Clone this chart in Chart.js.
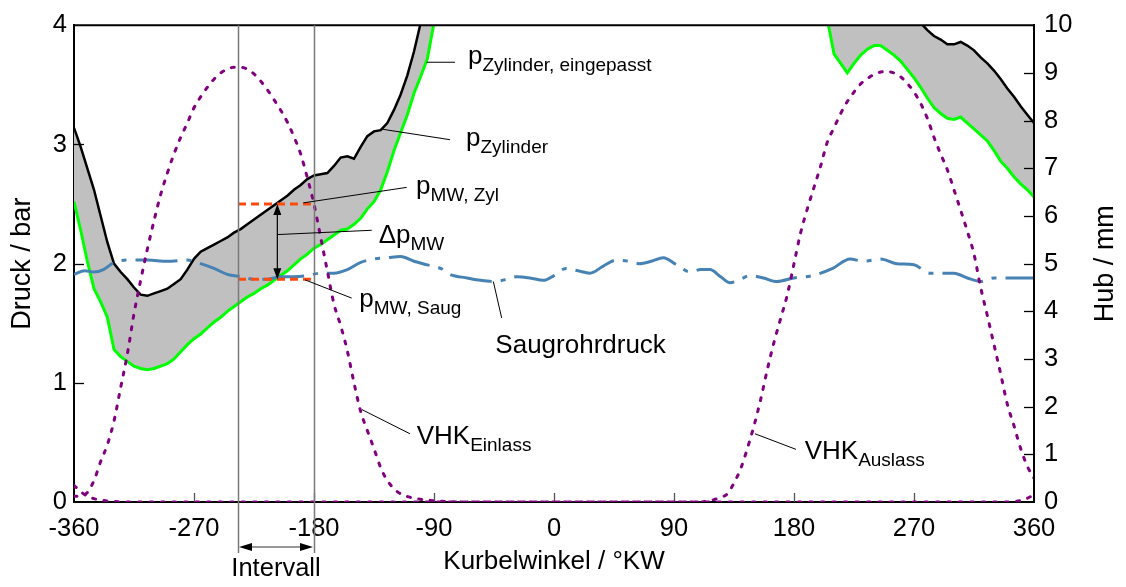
<!DOCTYPE html>
<html><head><meta charset="utf-8">
<script src="https://cdn.jsdelivr.net/npm/chart.js@4.4.1/dist/chart.umd.min.js"></script>
<style>html,body{margin:0;padding:0;background:#fff;} canvas{display:block;}</style>
</head><body>
<canvas id="c" width="1126" height="587"></canvas>
<script>
// ---------- data ----------
const KW_P = [-360,-355,-350,-345,-340,-335,-330,-325,-320,-315,-310,-305,-300,-295,-290,-285,-280,-275,-270,-265,-260,-255,-250,-245,-240,-235,-230,-225,-220,-215,-210,-205,-200,-195,-190,-185,-180,-175,-170,-165,-160,-155,-150,-145,-140,-135,-130,-125,-120,-115,-110,-105,-100,-95,-90,-85,
  -60,0,60,120,180,200,
  205,210,215,220,225,230,235,240,245,250,255,260,265,270,275,280,285,290,295,300,305,310,315,320,325,330,335,340,345,350,355,360];
const P_ZYL = [3.14,2.98,2.80,2.62,2.40,2.18,2.00,1.93,1.87,1.80,1.74,1.73,1.75,1.77,1.79,1.83,1.87,1.95,2.04,2.10,2.13,2.16,2.19,2.22,2.26,2.29,2.33,2.37,2.41,2.45,2.49,2.53,2.57,2.62,2.66,2.71,2.74,2.75,2.76,2.82,2.89,2.90,2.88,2.98,3.07,3.11,3.12,3.18,3.29,3.42,3.58,3.78,4.02,4.30,4.60,4.90,
  6.5,9.5,9.5,8.0,6.0,5.2,
  5.0,4.95,4.9,4.85,4.8,4.7,4.6,4.5,4.4,4.32,4.26,4.2,4.14,4.08,4.02,3.96,3.91,3.88,3.84,3.84,3.86,3.83,3.79,3.73,3.68,3.62,3.55,3.47,3.40,3.32,3.25,3.18];
const P_FIT = [2.52,2.28,2.02,1.79,1.68,1.55,1.28,1.22,1.18,1.14,1.12,1.11,1.12,1.14,1.16,1.20,1.26,1.32,1.37,1.41,1.46,1.51,1.55,1.60,1.64,1.68,1.72,1.75,1.79,1.82,1.86,1.90,1.94,1.99,2.04,2.08,2.13,2.16,2.20,2.24,2.28,2.29,2.33,2.38,2.46,2.52,2.62,2.77,2.95,3.10,3.25,3.43,3.57,3.72,4.02,4.30,
  5.5,8.0,8.0,7.0,5.0,4.3,
  4.05,3.76,3.68,3.60,3.68,3.75,3.80,3.83,3.83,3.79,3.75,3.70,3.63,3.56,3.48,3.39,3.31,3.26,3.22,3.21,3.23,3.18,3.13,3.08,3.03,2.95,2.86,2.80,2.73,2.67,2.62,2.56];

const KW_S = [-360,-352,-345,-338,-330,-320,-305,-290,-275,-265,-255,-245,-235,-225,-215,-205,-195,-185,-175,-165,-155,-145,-135,-125,-115,-105,-95,-85,-78,-65,-55,-45,-35,-28,-18,-8,0,9,18,27,37,47,56,64,73,82,92,102,110,117,125,132,140,147,157,167,180,194,209,222,232,245,257,270,282,300,310,320,330,345,360];
const P_SAUG = [1.91,1.94,1.93,1.95,2.01,2.03,2.03,2.02,2.03,2.00,1.96,1.91,1.89,1.87,1.87,1.89,1.89,1.90,1.92,1.92,1.95,2.01,2.04,2.05,2.06,2.02,1.99,1.96,1.91,1.88,1.86,1.85,1.87,1.89,1.88,1.86,1.90,1.96,1.94,1.92,1.98,2.03,2.02,2.00,2.02,2.05,1.99,1.93,1.95,1.95,1.89,1.84,1.87,1.90,1.88,1.85,1.88,1.90,1.96,2.04,2.02,2.04,2.00,1.99,1.92,1.92,1.88,1.85,1.88,1.88,1.88];

const KW_EIN = [-360,-355,-350,-345,-340,-335,-330,-325,-320,-315,-310,-305,-300,-295,-290,-285,-280,-275,-270,-265,-260,-255,-250,-245,-240,-235,-230,-225,-220,-215,-210,-205,-200,-195,-190,-185,-180,-175,-170,-165,-160,-155,-150,-145,-140,-135,-130,-125,-120,-115,-105,-95,-80,-70,340,350,355,360];
const HUB_EIN = [0.12,0.12,0.2,0.45,0.85,1.2,1.7,2.4,3.1,3.95,4.65,5.3,5.9,6.45,6.9,7.3,7.65,7.95,8.27,8.5,8.7,8.87,9.0,9.08,9.12,9.12,9.08,8.98,8.83,8.65,8.44,8.22,7.97,7.66,7.3,6.8,6.25,5.55,4.85,4.15,3.7,3.17,2.5,1.9,1.5,1.12,0.72,0.45,0.28,0.17,0.08,0.04,0.01,0,0,0.03,0.08,0.15];

const KW_AUS = [-360,-355,-350,-345,-340,-330,-320,110,115,120,125,130,135,140,145,150,155,160,165,170,175,180,185,190,195,200,205,210,215,220,225,230,235,240,245,250,255,260,265,270,275,280,285,290,295,300,305,310,315,320,325,330,335,340,345,350,355,360];
const HUB_AUS = [0.35,0.22,0.12,0.07,0.04,0.01,0,0,0.02,0.05,0.1,0.17,0.4,0.7,1.12,1.6,2.15,2.78,3.35,3.85,4.35,5.0,5.65,6.15,6.6,7.05,7.55,7.85,8.15,8.4,8.6,8.77,8.88,8.97,9.02,9.03,9.0,8.92,8.78,8.6,8.36,8.05,7.65,7.3,6.97,6.55,6.12,5.68,5.2,4.5,3.91,3.3,2.69,2.05,1.6,1.12,0.75,0.5];

const KW_INT = [-237, -180];          // Intervall
const P_MW_ZYL = [2.5, 2.5];
const P_MW_SAUG = [1.87, 1.87];
const KW_DP = -207.5;                 // position of the Δp arrow

const X_TICK_STEP = 90, Y_TICK_STEP = 1, Y1_TICK_STEP = 1;

// ---------- annotations (data units, left axis) ----------
const ANNOT = [
  {t:['p','Zylinder, eingepasst'], pos:[-64.5,3.679], line:[[-95.5,3.69],[-74.25,3.69]]},
  {t:['p','Zylinder'], pos:[-66,2.988], line:[[-128.75,3.128],[-78,3.04]]},
  {t:['p','MW, Zyl'], pos:[-103.5,2.5875], line:[[-188,2.51],[-110.5,2.64]]},
  {t:['\u0394p','MW'], pos:[-131.5,2.175], line:[[-207.5,2.244],[-136.7,2.28]]},
  {t:['p','MW, Saug'], pos:[-146,1.64], line:[[-186.75,1.864],[-151.75,1.711]]},
  {t:['Saugrohrdruck',''], pos:[-44,1.2525], line:[[-45.5,1.85],[-39.25,1.544]]},
  {t:['VHK','Einlass'], pos:[-103,0.489], line:[[-144,0.775],[-108,0.5725]]},
  {t:['VHK','Auslass'], pos:[188,0.358], line:[[150.75,0.5725],[181.5,0.4417]]}
];

const F = "'Liberation Sans', Arial, Helvetica, sans-serif";
Chart.defaults.font.family = F;
Chart.defaults.color = '#000';

const xy = (xs, ys) => xs.map((x,i)=>({x, y: ys[i]}));

function arrowHead(ctx, x, y, dx, dy, len, half){
  // tip at (x,y), pointing in direction (dx,dy)
  const px = -dy, py = dx;
  ctx.beginPath();
  ctx.moveTo(x, y);
  ctx.lineTo(x - dx*len + px*half, y - dy*len + py*half);
  ctx.lineTo(x - dx*len - px*half, y - dy*len - py*half);
  ctx.closePath();
  ctx.fill();
}

const overlay = {
  id: 'overlay',
  beforeDatasetsDraw(chart){
    const {ctx, chartArea:a, scales:{x, y, y1}} = chart;
    ctx.save();
    ctx.lineWidth = 1.3;
    ctx.strokeStyle = '#555';
    x.ticks.forEach(t => {
      if (t.value <= x.min || t.value >= x.max) return;
      const px = Math.round(x.getPixelForValue(t.value)) + 0.5;
      ctx.beginPath(); ctx.moveTo(px, a.bottom); ctx.lineTo(px, a.bottom - 9); ctx.stroke();
    });
    ctx.strokeStyle = '#000';
    y.ticks.forEach(t => {
      if (t.value <= y.min || t.value >= y.max) return;
      const py = Math.round(y.getPixelForValue(t.value)) + 0.5;
      ctx.beginPath(); ctx.moveTo(a.left, py); ctx.lineTo(a.left + 10, py); ctx.stroke();
    });
    y1.ticks.forEach(t => {
      if (t.value <= y1.min || t.value >= y1.max) return;
      const py = Math.round(y1.getPixelForValue(t.value)) + 0.5;
      ctx.beginPath(); ctx.moveTo(a.right, py); ctx.lineTo(a.right - 10, py); ctx.stroke();
    });
    ctx.restore();
  },
  afterDatasetsDraw(chart){
    const {ctx, chartArea:a, scales:{x, y}} = chart;
    const X = v => x.getPixelForValue(v), Y = v => y.getPixelForValue(v);
    ctx.save();
    // top border
    ctx.strokeStyle = '#000'; ctx.lineWidth = 2;
    ctx.beginPath(); ctx.moveTo(a.left, a.top); ctx.lineTo(a.right, a.top); ctx.stroke();
    ctx.beginPath(); ctx.moveTo(a.right, a.top); ctx.lineTo(a.right, a.bottom); ctx.stroke();
    // interval vertical lines
    const arrY = a.bottom + 45;
    ctx.strokeStyle = '#7a7a7a'; ctx.lineWidth = 1.5;
    KW_INT.forEach(v => {
      const px = Math.round(X(v)) + 0.5;
      ctx.beginPath(); ctx.moveTo(px, a.top); ctx.lineTo(px, arrY + 6); ctx.stroke();
    });
    // Intervall arrow
    const x0 = X(KW_INT[0]) + 1, x1 = X(KW_INT[1]) - 1;
    ctx.strokeStyle = '#777'; ctx.lineWidth = 1.5;
    ctx.beginPath(); ctx.moveTo(x0 + 8, arrY); ctx.lineTo(x1 - 8, arrY); ctx.stroke();
    ctx.fillStyle = '#000';
    arrowHead(ctx, x0, arrY, -1, 0, 13, 4);
    arrowHead(ctx, x1, arrY, 1, 0, 13, 4);
    ctx.font = '25.5px ' + F; ctx.textAlign = 'center'; ctx.textBaseline = 'alphabetic';
    ctx.fillText('Intervall', (x0 + x1)/2, arrY + 29);
    // Δp double arrow
    const ax = X(KW_DP), yt = Y(P_MW_ZYL[0]), yb = Y(P_MW_SAUG[0]);
    ctx.strokeStyle = '#000'; ctx.lineWidth = 1.2;
    ctx.beginPath(); ctx.moveTo(ax, yt + 8); ctx.lineTo(ax, yb - 8); ctx.stroke();
    arrowHead(ctx, ax, yt, 0, -1, 11, 4);
    arrowHead(ctx, ax, yb, 0, 1, 11, 4);
    // leaders + labels
    ctx.lineWidth = 1; ctx.strokeStyle = '#000';
    ANNOT.forEach(an => {
      const [p0, p1] = an.line;
      ctx.beginPath(); ctx.moveTo(X(p0[0]), Y(p0[1])); ctx.lineTo(X(p1[0]), Y(p1[1])); ctx.stroke();
      const tx = X(an.pos[0]), ty = Y(an.pos[1]);
      ctx.textAlign = 'left'; ctx.textBaseline = 'alphabetic'; ctx.fillStyle = '#000';
      ctx.font = '26px ' + F;
      ctx.fillText(an.t[0], tx, ty);
      if (an.t[1]) {
        const w = ctx.measureText(an.t[0]).width;
        ctx.font = '19px ' + F;
        ctx.fillText(an.t[1], tx + w, ty + 7);
      }
    });
    // right axis title (reads bottom to top)
    ctx.save();
    ctx.translate(1106, (a.top + a.bottom)/2);
    ctx.rotate(-Math.PI/2);
    ctx.font = '27px ' + F; ctx.textAlign = 'center'; ctx.textBaseline = 'middle';
    ctx.fillText('Hub / mm', 0, 0);
    ctx.restore();
    ctx.restore();
  }
};

const tickFont = {family: F, size: 25.5};

new Chart(document.getElementById('c'), {
  type: 'line',
  data: {
    datasets: [
      {label:'pZylinder', data: xy(KW_P, P_ZYL), yAxisID:'y', borderColor:'#000', borderWidth:2.5, pointRadius:0, fill:false, order:3},
      {label:'pZylinder, eingepasst', data: xy(KW_P, P_FIT), yAxisID:'y', borderColor:'#00ff00', borderWidth:3, pointRadius:0,
        fill:{target:0}, backgroundColor:'#c0c0c0', order:4},
      {label:'Saugrohrdruck', data: xy(KW_S, P_SAUG), yAxisID:'y', borderColor:'#4682b4', borderWidth:3, pointRadius:0,
        borderDash:[42,9,5,9], fill:false, order:2, cubicInterpolationMode:'monotone'},
      {label:'VHK Einlass', data: xy(KW_EIN, HUB_EIN), yAxisID:'y1', borderColor:'#800080', borderWidth:3, pointRadius:0,
        borderDash:[3,8.5], borderCapStyle:'round', fill:false, order:1, cubicInterpolationMode:'monotone'},
      {label:'VHK Auslass', data: xy(KW_AUS, HUB_AUS), yAxisID:'y1', borderColor:'#800080', borderWidth:3, pointRadius:0,
        borderDash:[3,8.5], borderCapStyle:'round', fill:false, order:1, cubicInterpolationMode:'monotone'},
      {label:'pMW, Zyl', data: xy(KW_INT, P_MW_ZYL), yAxisID:'y', borderColor:'#ff4a10', borderWidth:3, pointRadius:0,
        borderDash:[8,5], fill:false, order:0},
      {label:'pMW, Saug', data: xy(KW_INT, P_MW_SAUG), yAxisID:'y', borderColor:'#ff4a10', borderWidth:3, pointRadius:0,
        borderDash:[8,5], fill:false, order:0}
    ]
  },
  options: {
    responsive: false,
    animation: false,
    events: [],
    layout: {padding: {top: 21, left: 0, right: 0, bottom: 0}},
    plugins: {legend:{display:false}, tooltip:{enabled:false}, filler:{drawTime:'beforeDatasetsDraw'}},
    scales: {
      x: {type:'linear', min:-360, max:360,
        ticks:{stepSize:X_TICK_STEP, font:tickFont, color:'#000', padding:12, maxRotation:0, autoSkip:false},
        grid:{drawOnChartArea:false, drawTicks:false},
        border:{display:true, color:'#000', width:2},
        title:{display:true, text:'Kurbelwinkel / °KW', font:{family:F, size:26}, color:'#000', padding:{top:0, bottom:10}},
        afterFit(s){ s.height = 85; }
      },
      y: {type:'linear', position:'left', min:0, max:4,
        ticks:{stepSize:Y_TICK_STEP, font:tickFont, color:'#000', padding:7},
        grid:{drawOnChartArea:false, drawTicks:false},
        border:{display:true, color:'#000', width:2},
        title:{display:true, text:'Druck / bar', font:{family:F, size:27}, color:'#000', padding:{top:6, bottom:0}},
        afterFit(s){ s.width = 74; }
      },
      y1: {type:'linear', position:'right', min:0, max:10,
        ticks:{stepSize:Y1_TICK_STEP, font:tickFont, color:'#000', padding:10},
        grid:{drawOnChartArea:false, drawTicks:false},
        border:{display:true, color:'#000', width:2},
        afterFit(s){ s.width = 92; }
      }
    }
  },
  plugins: [overlay]
});
</script>
</body></html>
